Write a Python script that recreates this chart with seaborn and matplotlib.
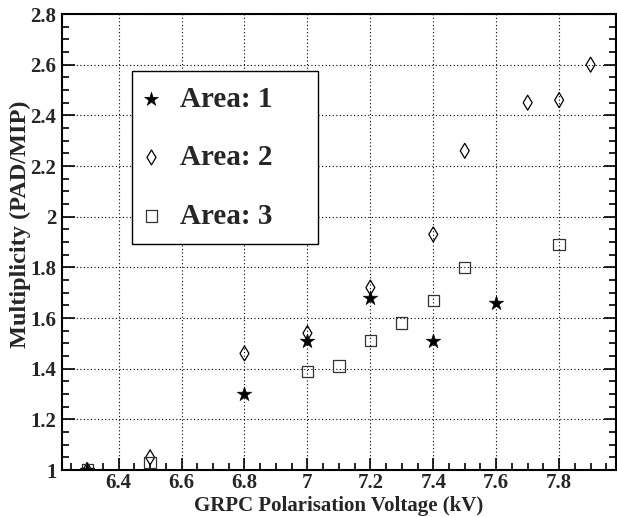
import numpy as np
import pandas as pd
import matplotlib
matplotlib.use("Agg")
import matplotlib.pyplot as plt
from matplotlib.ticker import MultipleLocator, FuncFormatter
import seaborn as sns

# ---- data ----
area1_x = [6.3, 6.8, 7.0, 7.2, 7.4, 7.6]
area1_y = [1.00, 1.30, 1.51, 1.68, 1.51, 1.66]

area2_x = [6.3, 6.5, 6.8, 7.0, 7.2, 7.4, 7.5, 7.7, 7.8, 7.9]
area2_y = [1.00, 1.05, 1.46, 1.54, 1.72, 1.93, 2.26, 2.45, 2.46, 2.60]

area3_x = [6.3, 6.5, 7.0, 7.1, 7.2, 7.3, 7.4, 7.5, 7.8]
area3_y = [1.00, 1.03, 1.39, 1.41, 1.51, 1.58, 1.67, 1.80, 1.89]

labels = ["Area: 1", "Area: 2", "Area: 3"]
x_label = "GRPC Polarisation Voltage (kV)"
y_label = "Multiplicity (PAD/MIP)"

sns.set_style("ticks")
plt.rcParams["font.family"] = ["Liberation Serif", "DejaVu Serif"]
plt.rcParams["font.weight"] = "bold"

fig = plt.figure(figsize=(6.17, 5.17), dpi=100)
ax = fig.add_axes([0.1005, 0.0909, 0.8975, 0.8820])

df1 = pd.DataFrame({"x": area1_x, "y": area1_y})
df2 = pd.DataFrame({"x": area2_x, "y": area2_y})
df3 = pd.DataFrame({"x": area3_x, "y": area3_y})

sns.scatterplot(data=df1, x="x", y="y", ax=ax, marker="*", s=120,
                color="black", edgecolor="black", linewidth=0.4,
                label=labels[0], zorder=4)
sns.scatterplot(data=df2, x="x", y="y", ax=ax, marker="d", s=58,
                facecolor="none", edgecolor="black", linewidth=0.9,
                label=labels[1], zorder=3)
sns.scatterplot(data=df3, x="x", y="y", ax=ax, marker="s", s=66,
                facecolor="none", edgecolor="#333333", linewidth=0.9,
                label=labels[2], zorder=3)

ax.set_xlim(6.22, 7.98)
ax.set_ylim(1.0, 2.8)

ax.xaxis.set_major_locator(MultipleLocator(0.2))
ax.xaxis.set_minor_locator(MultipleLocator(0.05))
ax.yaxis.set_major_locator(MultipleLocator(0.2))
ax.yaxis.set_minor_locator(MultipleLocator(0.05))
fmt = FuncFormatter(lambda v, p: ("%.1f" % v).rstrip("0").rstrip("."))
ax.xaxis.set_major_formatter(fmt)
ax.yaxis.set_major_formatter(fmt)

ax.tick_params(axis="both", which="both", direction="in", color="black",
               width=1.2, right=True, top=False)
ax.tick_params(axis="both", which="major", length=9, labelsize=15, pad=4)
ax.tick_params(axis="x", which="major", pad=2)
ax.tick_params(axis="both", which="minor", length=5)

for lab in ax.get_xticklabels() + ax.get_yticklabels():
    lab.set_fontweight("bold")

for sp in ax.spines.values():
    sp.set_visible(True)
    sp.set_color("black")
    sp.set_linewidth(1.5)

ax.grid(True, which="major", color="black", linestyle=(0, (1, 2.2)), linewidth=0.8)
ax.set_axisbelow(True)

ax.set_xlabel(x_label, fontsize=15, fontweight="bold")
ax.set_ylabel(y_label, fontsize=17.5, fontweight="bold")
ax.xaxis.set_label_coords(0.5, -0.058)
ax.yaxis.set_label_coords(-0.076, 0.538)
ax.yaxis.label.set_va("center")

leg = ax.legend(loc="upper left", bbox_to_anchor=(0.126, 0.502, 0.337, 0.373),
                mode="expand",
                prop={"family": ["Liberation Serif"], "weight": "bold", "size": 21},
                frameon=True, fancybox=False, framealpha=1, edgecolor="black",
                borderpad=0.5, labelspacing=1.08, handletextpad=0.8,
                handlelength=0.35, borderaxespad=0)
leg.get_frame().set_linewidth(1.0)
leg_sizes = [110, 58, 66]
for h, sz in zip(leg.legend_handles, leg_sizes):
    try:
        h.set_sizes([sz])
    except Exception:
        pass

fig.savefig("out.png", dpi=100)
